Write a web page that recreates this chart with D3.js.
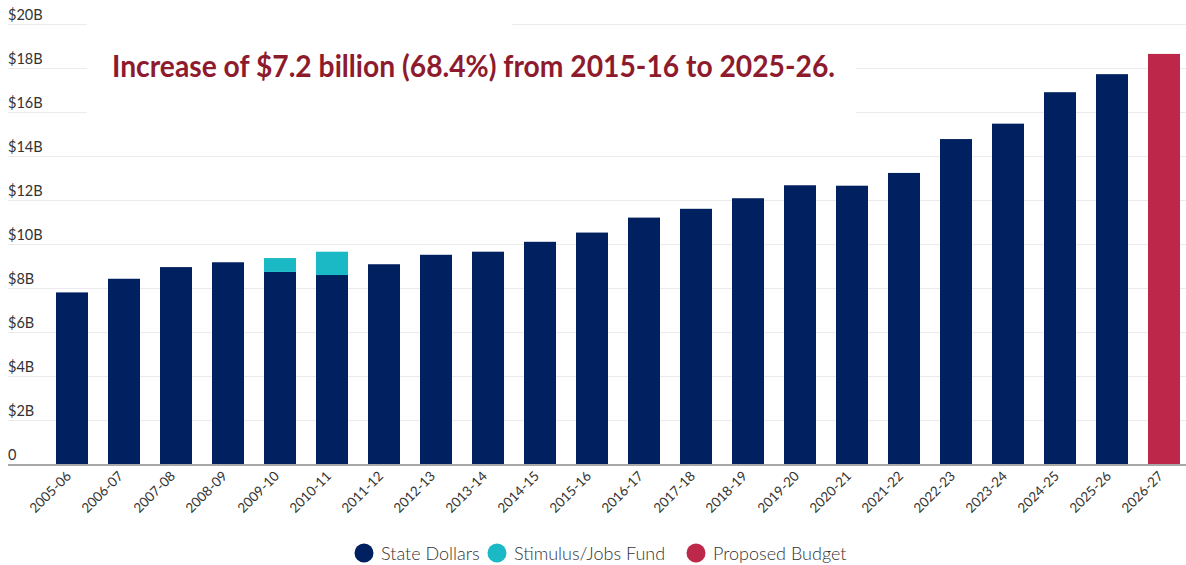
<!DOCTYPE html>
<html>
<head>
    <meta charset="utf-8">
    <title></title>
    <style>
        body { margin: 0; background: #fff; }
        text { font-family: Lato, "Open Sans", sans-serif; fill: #333; }
        .grid line { stroke: #ebebeb; stroke-width: 1px; }
        .ylab { font-size: 14.5px; }
        .xlab { font-size: 13.5px; }
        .legend text { font-size: 18px; font-weight: 300; }
        .title { font-size: 31px; font-weight: bold; fill: #8e1b2d; }
    </style>
</head>
<body>
    <script src="https://cdn.jsdelivr.net/npm/d3@7"></script>
    <script>
        var years = ["2005-06", "2006-07", "2007-08", "2008-09", "2009-10", "2010-11", "2011-12",
            "2012-13", "2013-14", "2014-15", "2015-16", "2016-17", "2017-18", "2018-19", "2019-20",
            "2020-21", "2021-22", "2022-23", "2023-24", "2024-25", "2025-26", "2026-27"];
        // billions
        var stateDollars = [7.8, 8.42, 8.95, 9.17, 8.73, 8.59, 9.08, 9.51, 9.65, 10.1, 10.52,
            11.2, 11.6, 12.08, 12.67, 12.65, 13.23, 14.77, 15.47, 16.9, 17.72, 0];
        var stimulus = [0, 0, 0, 0, 0.63, 1.06, 0, 0, 0, 0, 0, 0, 0, 0, 0, 0, 0, 0, 0, 0, 0, 0];
        var proposed = [0, 0, 0, 0, 0, 0, 0, 0, 0, 0, 0, 0, 0, 0, 0, 0, 0, 0, 0, 0, 0, 18.64];
        var yTicks = [0, 2, 4, 6, 8, 10, 12, 14, 16, 18, 20];
        var series = ["State Dollars", "Stimulus/Jobs Fund", "Proposed Budget"];
        var colors = ["#012060", "#1ab9c5", "#bd274a"];

        var width = 1186, height = 565;
        var svg = d3.select("body").append("svg")
            .attr("width", width)
            .attr("height", height);

        var x = d3.scaleBand()
            .domain(years)
            .range([46, 46 + years.length * 52])
            .paddingInner(20 / 52)
            .paddingOuter(10 / 52);
        var y = d3.scaleLinear()
            .domain([0, 20])
            .range([464, 24]);

        // gridlines
        svg.append("g").attr("class", "grid")
            .selectAll("line")
            .data(yTicks.filter(function(d) { return d > 0; }))
            .enter().append("line")
            .attr("x1", 8)
            .attr("x2", width)
            .attr("y1", function(d) { return y(d) + 0.5; })
            .attr("y2", function(d) { return y(d) + 0.5; });

        svg.selectAll(".ylab")
            .data(yTicks)
            .enter().append("text")
            .attr("class", "ylab")
            .attr("x", 8)
            .attr("y", function(d) { return y(d) - 4; })
            .text(function(d) { return d == 0 ? "0" : "$" + d + "B"; });

        var table = years.map(function(yr, i) {
            return { year: yr, s: stateDollars[i], j: stimulus[i], p: proposed[i] };
        });
        var stack = d3.stack().keys(["s", "j", "p"])(table);

        svg.append("g")
            .selectAll("g")
            .data(stack)
            .enter().append("g")
            .attr("fill", function(d, i) { return colors[i]; })
            .selectAll("rect")
            .data(function(d) { return d.filter(function(v) { return v[1] > v[0]; }); })
            .enter().append("rect")
            .attr("x", function(d) { return x(d.data.year); })
            .attr("width", x.bandwidth())
            .attr("y", function(d) { return y(d[1]); })
            .attr("height", function(d) { return y(d[0]) - y(d[1]); });

        // baseline
        svg.append("line")
            .attr("x1", 8).attr("x2", width)
            .attr("y1", y(0) + 1).attr("y2", y(0) + 1)
            .attr("stroke", "#a8a8a8")
            .attr("stroke-width", 2);

        svg.selectAll(".xlab")
            .data(years)
            .enter().append("text")
            .attr("class", "xlab")
            .attr("text-anchor", "end")
            .attr("transform", function(d) {
                return "translate(" + (x(d) + x.bandwidth() / 2) + "," + 477 + ") rotate(-45)";
            })
            .text(function(d) { return d; });

        // white boxes behind the annotation
        svg.append("rect").attr("x", 87).attr("y", 0).attr("width", 425).attr("height", 34).attr("fill", "#fff");
        svg.append("rect").attr("x", 87).attr("y", 40).attr("width", 769).attr("height", 80).attr("fill", "#fff");

        svg.append("text")
            .attr("class", "title")
            .attr("x", 112)
            .attr("y", 77)
            .attr("textLength", 723)
            .attr("lengthAdjust", "spacingAndGlyphs")
            .text("Increase of $7.2 billion (68.4%) from 2015-16 to 2025-26.");

        var legendX = [364, 497, 696];
        var legend = svg.append("g").attr("class", "legend")
            .selectAll("g")
            .data(series)
            .enter().append("g")
            .attr("transform", function(d, i) { return "translate(" + legendX[i] + ",553)"; });
        legend.append("circle")
            .attr("r", 9.5)
            .attr("fill", function(d, i) { return colors[i]; });
        legend.append("text")
            .attr("x", 17)
            .attr("y", 6.5)
            .text(function(d) { return d; });
    </script>
</body>
</html>
